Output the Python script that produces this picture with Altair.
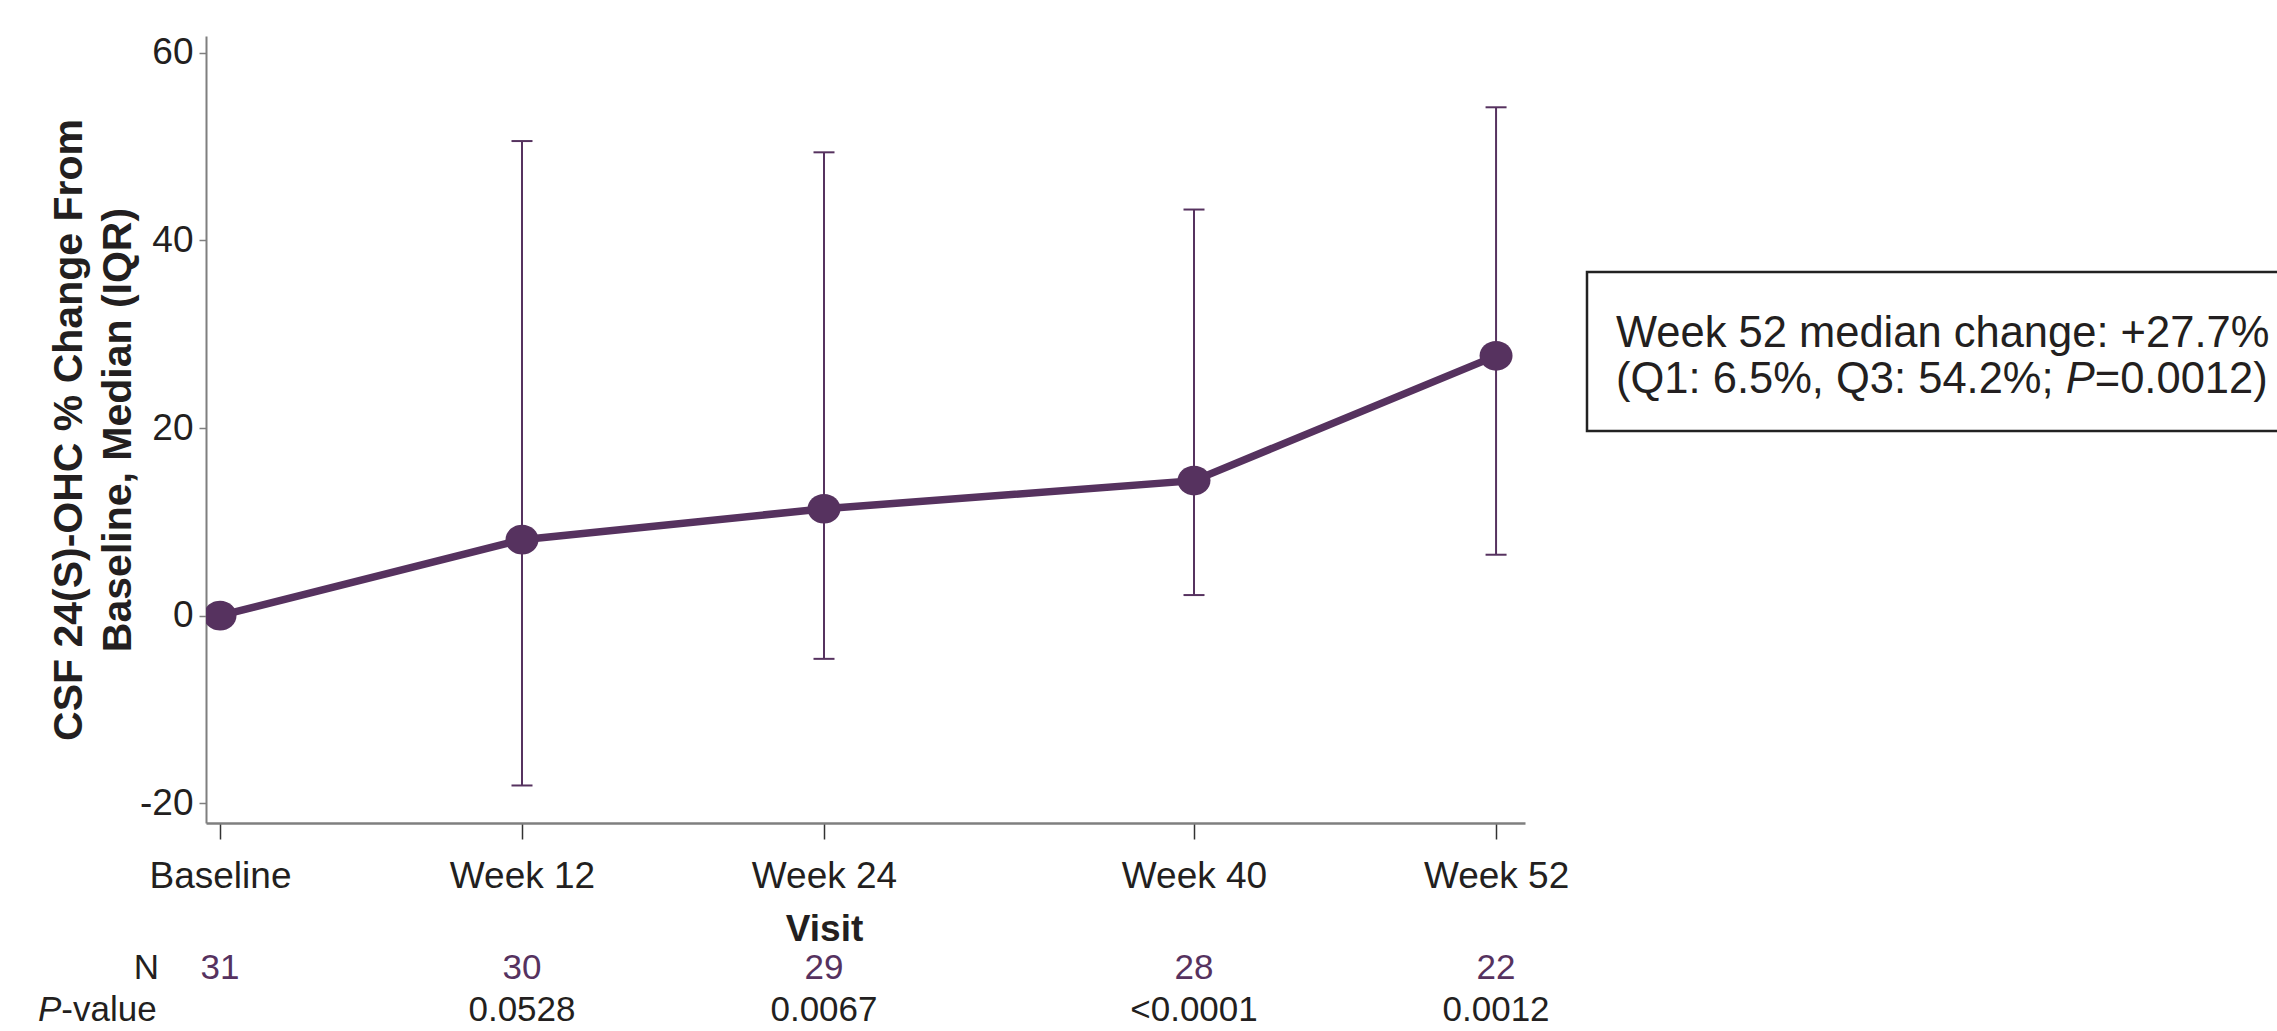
import altair as alt
import pandas as pd

# ---- data -------------------------------------------------------------
visits = ["Baseline", "Week 12", "Week 24", "Week 40", "Week 52"]
weeks = [0, 12, 24, 40, 52]
median_change = [0.0, 8.1, 11.4, 14.4, 27.7]
q1 = [None, -18.1, -4.6, 2.2, 6.5]
q3 = [None, 50.6, 49.4, 43.3, 54.2]
n_patients = [31, 30, 29, 28, 22]
p_values = ["", "0.0528", "0.0067", "<0.0001", "0.0012"]

summary_line1 = "Week 52 median change: +27.7%"
summary_line2 = ["(Q1: 6.5%, Q3: 54.2%; ", "P", "=0.0012)"]

df = pd.DataFrame({
    "visit": visits, "week": weeks, "median": median_change,
    "q1": q1, "q3": q3, "n": n_patients, "p": p_values,
})
iqr = df.dropna(subset=["q1"])

# ---- styling ----------------------------------------------------------
PURPLE = "#56325f"
INK = "#231f20"
FONT = "Liberation Sans"
W, H = 1319, 787

# slightly wide elliptical marker (unit path, scaled by the symbol size)
OVAL = "M-1,0A1,0.9,0,1,1,1,0A1,0.9,0,1,1,-1,0Z"

# Arial-compatible advance widths (per 1000 em) for placing mixed-style runs
ADV = {" ": 278, "(": 333, ")": 333, "Q": 778, ":": 278, ".": 278, "%": 889,
       ",": 278, ";": 278, "P": 667, "=": 584, "-": 333, "v": 500, "a": 556,
       "l": 222, "u": 556, "e": 556}


def run_width(s, size):
    return sum(ADV.get(c, 556) for c in s) * size / 1000


# piecewise week scale: visits are spaced evenly except the Week 24-40 gap
x_scale = alt.Scale(domain=[-0.556, 24, 40, 53.15], range=[0, 618, 988, W],
                    nice=False, zero=False)
y_scale = alt.Scale(domain=[-22.1, 61.8], nice=False, zero=False)

label_expr = " : ".join(
    f"datum.value == {w} ? '{v}'" for w, v in zip(weeks, visits)
) + " : ''"

x_axis = alt.Axis(
    values=weeks, labelExpr=label_expr, grid=False,
    labelFontSize=37, labelColor=INK, labelFont=FONT, labelPadding=19,
    tickSize=16, tickColor="#333333", tickWidth=1.5,
    domainColor="#7f7f7f", domainWidth=2.5,
    title="Visit", titleFont=FONT, titleFontSize=37, titleFontWeight="bold",
    titleColor=INK, titleX=618, titleY=117, titleAlign="center",
    titleBaseline="alphabetic",
)
y_axis = alt.Axis(
    values=[-20, 0, 20, 40, 60], labelExpr="datum.value + ''", grid=False,
    labelFontSize=37, labelColor=INK, labelFont=FONT, labelPadding=6,
    tickSize=7, tickColor="#7f7f7f", tickWidth=1.5,
    domainColor="#7f7f7f", domainWidth=2,
    title=["CSF 24(S)-OHC % Change From", "Baseline, Median (IQR)"],
    titleFont=FONT, titleFontSize=41, titleFontWeight="bold", titleColor=INK,
    titleLineHeight=49, titleX=-125, titleY=H / 2, titleAngle=270,
    titleAlign="center", titleBaseline="alphabetic",
)


def xw():
    return alt.X("week:Q", scale=x_scale, axis=x_axis)


def yf(field):
    return alt.Y(f"{field}:Q", scale=y_scale, axis=y_axis)


base = alt.Chart(df)

iqr_rules = alt.Chart(iqr).mark_rule(color=PURPLE, strokeWidth=2).encode(
    x=xw(), y=yf("q1"), y2="q3:Q",
)
iqr_low = alt.Chart(iqr).mark_tick(
    color=PURPLE, orient="horizontal", size=21, thickness=2, opacity=1
).encode(x=xw(), y=yf("q1"))
iqr_high = alt.Chart(iqr).mark_tick(
    color=PURPLE, orient="horizontal", size=21, thickness=2, opacity=1
).encode(x=xw(), y=yf("q3"))
median_line = base.mark_line(color=PURPLE, strokeWidth=7.5).encode(
    x=xw(), y=yf("median"),
)
median_pts = base.mark_point(
    shape=OVAL, filled=True, color=PURPLE, size=1089, opacity=1, clip=True
).encode(x=xw(), y=yf("median"))

# N and P-value rows under the axis
n_row = base.mark_text(
    font=FONT, fontSize=35, color=PURPLE, align="center", baseline="alphabetic"
).encode(x=xw(), y=alt.value(943), text="n:Q")
p_row = base.mark_text(
    font=FONT, fontSize=35, color=INK, align="center", baseline="alphabetic"
).encode(x=xw(), y=alt.value(985), text="p:N")

one = pd.DataFrame({"k": [0]})
n_label = alt.Chart(one).mark_text(
    font=FONT, fontSize=35, color=INK, align="right", baseline="alphabetic"
).encode(x=alt.value(-47), y=alt.value(943), text=alt.value("N"))

P_X = -168
p_label_italic = alt.Chart(one).mark_text(
    font=FONT, fontSize=35, color=INK, align="left", baseline="alphabetic",
    fontStyle="italic",
).encode(x=alt.value(P_X), y=alt.value(985), text=alt.value("P"))
p_label_rest = alt.Chart(one).mark_text(
    font=FONT, fontSize=35, color=INK, align="left", baseline="alphabetic"
).encode(x=alt.value(P_X + run_width("P", 35)), y=alt.value(985),
         text=alt.value("-value"))

# summary box at the right
BOX_FS = 43.5
BOX_X = 1410
summary_box = alt.Chart(one).mark_rect(
    fill="white", stroke="#222222", strokeWidth=2.5
).encode(x=alt.value(1381), x2=alt.value(2110), y=alt.value(236), y2=alt.value(395))

summary_text1 = alt.Chart(one).mark_text(
    font=FONT, fontSize=BOX_FS, color=INK, align="left", baseline="alphabetic"
).encode(x=alt.value(BOX_X), y=alt.value(311), text=alt.value(summary_line1))

seg_x = [BOX_X,
         BOX_X + run_width(summary_line2[0], BOX_FS),
         BOX_X + run_width(summary_line2[0] + summary_line2[1], BOX_FS)]
summary_text2 = [
    alt.Chart(one).mark_text(
        font=FONT, fontSize=BOX_FS, color=INK, align="left",
        baseline="alphabetic", fontStyle="italic" if i == 1 else "normal",
    ).encode(x=alt.value(sx), y=alt.value(357), text=alt.value(seg))
    for i, (sx, seg) in enumerate(zip(seg_x, summary_line2))
]

chart = alt.layer(
    median_line, iqr_rules, iqr_low, iqr_high, median_pts,
    n_row, p_row, n_label, p_label_italic, p_label_rest,
    summary_box, summary_text1, *summary_text2,
).properties(
    width=W, height=H,
    autosize=alt.AutoSizeParams(type="none"),
    padding={"left": 206, "top": 36, "right": 752, "bottom": 208},
    background="white",
).configure_view(stroke="transparent")

chart.save("out.html", embed_options={"renderer": "svg", "actions": False})
